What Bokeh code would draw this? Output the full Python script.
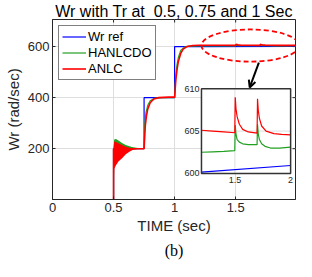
import math
from bokeh.plotting import figure
from bokeh.models import Range1d, FixedTicker, Title, Arrow, OpenHead
from bokeh.embed import file_html
from bokeh.resources import INLINE
from bokeh.core.properties import value

# ---------------- data ----------------
t_ref = [0.0, 0.5, 0.5, 0.75, 0.75, 1.0, 1.0, 1.2, 2.0]
w_ref = [0, 0, 200, 200, 400, 400, 600, 600.15, 600.94]

t_hanlcdo = [0.0, 0.5, 0.5, 0.75, 0.755, 0.765, 0.78, 0.80, 0.84, 0.90, 1.0,
             1.01, 1.02, 1.03, 1.05, 1.08, 1.12, 1.2, 1.3, 1.4, 1.499,
             1.503, 1.51, 1.52, 1.54, 1.57, 1.62, 1.699, 1.703, 1.71, 1.72,
             1.74, 1.77, 1.82, 1.9, 2.0]
w_hanlcdo = [0, 0, 200, 201, 290, 340, 370, 388, 398, 400, 400,
             490, 530, 556, 585, 598, 601.5, 602.5, 602.55, 602.6, 602.7,
             605.7, 604.6, 604.0, 603.7, 603.5, 603.4, 603.4, 605.8, 604.6, 604.0,
             603.5, 603.2, 603.0, 603.0, 603.1]

t_anlc = [0.0, 0.5, 0.5, 0.70, 0.75, 0.76, 0.77, 0.78, 0.80, 0.83, 0.87, 0.95,
          1.0, 1.01, 1.02, 1.03, 1.05, 1.07, 1.10, 1.15, 1.2, 1.3, 1.4, 1.499,
          1.503, 1.51, 1.52, 1.54, 1.57, 1.62, 1.699, 1.703, 1.71, 1.72, 1.74,
          1.78, 1.85, 1.92, 2.0]
w_anlc = [0, 0, 200, 200, 200, 290, 330, 355, 380, 395, 400, 402,
          402, 470, 510, 540, 573, 590, 600, 604, 605.1, 605.0, 604.9, 604.8,
          609.0, 607.6, 606.7, 605.8, 605.2, 604.9, 604.75, 608.8, 607.4, 606.5, 605.6,
          605.0, 604.7, 604.6, 604.55]

# oscillation envelopes after the 0.5 s step
t_osc_hanlcdo = [0.500, 0.505, 0.52, 0.54, 0.57, 0.60, 0.65, 0.70, 0.75]
hanlcdo_hi = [200, 236, 238, 232, 222, 214, 207, 203, 201]
hanlcdo_lo = [200, 150, 160, 170, 180, 190, 196, 199, 200]

t_osc_anlc = [0.500, 0.505, 0.52, 0.54, 0.57, 0.60, 0.63, 0.66, 0.70]
anlc_hi = [200, 228, 226, 221, 214, 208, 204, 201, 200]
anlc_lo = [0, 120, 135, 150, 163, 178, 188, 196, 200]

x_ticks = [0, 0.5, 1, 1.5]
y_ticks = [200, 400, 600]
inset_x_ticks = [1.5, 2.0]
inset_x_labels = ["1.5", "2"]
inset_y_ticks = [600, 605, 610]
inset_y_labels = ["600", "605", "610"]

# ---------------- layout constants ----------------
X_RANGE = (0.0, 1.99)
Y_RANGE = (1.0, 706.0)
INSET_X = (1.2, 2.0)
INSET_Y = (600.0, 610.0)
BOX_X = (1.22, 1.95)      # inset box position in main-axis units
BOX_Y = (103.0, 435.0)

FONT = "Liberation Sans"
TXT = "#262626"
BLUE = "#0000ff"
GREEN = "#22a022"
RED = "#ff0000"

p = figure(width=296, height=261, output_backend="svg", toolbar_location=None,
           x_range=Range1d(*X_RANGE), y_range=Range1d(*Y_RANGE),
           min_border_left=52, min_border_right=1, min_border_top=0, min_border_bottom=0)
p.background_fill_color = "white"
p.border_fill_color = "white"
p.outline_line_color = TXT
p.outline_line_width = 1

# title
p.title.text = "Wr with Tr at\u00a0 0.5, 0.75 and 1 Sec"
p.title.text_font = FONT
p.title.text_font_size = "16px"
p.title.text_font_style = "normal"
p.title.text_color = "black"
p.title.align = "center"
p.title.standoff = 0
p.title.offset = 0

# axes
for ax, ticks in ((p.xaxis[0], x_ticks), (p.yaxis[0], y_ticks)):
    ax.ticker = FixedTicker(ticks=ticks)
    ax.major_tick_in = 3
    ax.major_tick_out = 0
    ax.minor_tick_line_color = None
    ax.major_label_text_font = FONT
    ax.major_label_text_font_size = "13px"
    ax.major_label_text_color = TXT
    ax.axis_line_color = TXT
    ax.major_tick_line_color = TXT
    ax.axis_label_text_font = FONT
    ax.axis_label_text_font_size = "15px"
    ax.axis_label_text_font_style = "normal"
    ax.axis_label_text_color = TXT
p.xaxis.major_label_standoff = 3
p.yaxis.major_label_standoff = 3
p.xaxis.axis_label = "TIME (sec)"
p.yaxis.axis_label = "Wr (rad/sec)"
p.xaxis.axis_label_standoff = 2
p.yaxis.axis_label_standoff = 3
p.xaxis.formatter.use_scientific = False

p.xgrid.ticker = FixedTicker(ticks=x_ticks)
p.ygrid.ticker = FixedTicker(ticks=y_ticks)
p.grid.grid_line_color = "#dedede"
p.grid.grid_line_width = 1

# "(b)" caption
p.add_layout(Title(text="(b)", align="center", text_font="Liberation Serif",
                   text_font_size="16px", text_font_style="normal", text_color="black",
                   offset=-16, standoff=6), "below")

# mirrored tick marks on the right and top edges
p.ray(x=[X_RANGE[1]] * len(y_ticks), y=y_ticks, length=3, length_units="screen",
      angle=math.pi, line_color=TXT, line_width=1)
p.ray(x=x_ticks, y=[Y_RANGE[1]] * len(x_ticks), length=3, length_units="screen",
      angle=-math.pi / 2, line_color=TXT, line_width=1)

# ---------------- main curves ----------------
p.line(t_ref, w_ref, color=BLUE, line_width=1.2, legend_label="Wr ref")
p.line(t_hanlcdo, w_hanlcdo, color=GREEN, line_width=1.2, legend_label="HANLCDO")
p.varea(x=t_osc_hanlcdo, y1=hanlcdo_lo, y2=hanlcdo_hi, fill_color=GREEN)
p.varea(x=t_osc_anlc, y1=anlc_lo, y2=anlc_hi, fill_color=RED)
p.line(t_anlc, w_anlc, color=RED, line_width=1.6, legend_label="ANLC")

# highlight ellipse and arrow
p.ellipse(x=[1.62], y=[604], width=0.80, height=126, fill_alpha=0,
          line_color=RED, line_width=1.8, line_dash="5 3")
p.add_layout(Arrow(end=OpenHead(size=7, line_width=2, line_color="black"),
                   x_start=1.69, y_start=537, x_end=1.615, y_end=440,
                   line_width=2, line_color="black"))

# ---------------- inset ----------------
sx = (INSET_X[1] - INSET_X[0]) / (BOX_X[1] - BOX_X[0])
sy = (INSET_Y[1] - INSET_Y[0]) / (BOX_Y[1] - BOX_Y[0])
p.extra_x_ranges = {"ix": Range1d(INSET_X[0] + (X_RANGE[0] - BOX_X[0]) * sx,
                                  INSET_X[0] + (X_RANGE[1] - BOX_X[0]) * sx)}
p.extra_y_ranges = {"iy": Range1d(INSET_Y[0] + (Y_RANGE[0] - BOX_Y[0]) * sy,
                                  INSET_Y[0] + (Y_RANGE[1] - BOX_Y[0]) * sy)}
I = dict(x_range_name="ix", y_range_name="iy")

p.quad(left=[INSET_X[0]], right=[INSET_X[1]], bottom=[INSET_Y[0]], top=[INSET_Y[1]],
       fill_color="white", line_color=None, **I)
# inset grid
p.segment(x0=inset_x_ticks[:1], y0=[INSET_Y[0]], x1=inset_x_ticks[:1], y1=[INSET_Y[1]],
          line_color="#dedede", line_width=1, **I)
p.segment(x0=[INSET_X[0]], y0=[inset_y_ticks[1]], x1=[INSET_X[1]], y1=[inset_y_ticks[1]],
          line_color="#dedede", line_width=1, **I)


def inset_part(t, w):
    pts = [(a, b) for a, b in zip(t, w) if a >= INSET_X[0] - 1e-9]
    return [a for a, _ in pts], [b for _, b in pts]


for t, w, c, lw in ((t_ref, w_ref, BLUE, 1.2), (t_hanlcdo, w_hanlcdo, GREEN, 1.2),
                    (t_anlc, w_anlc, RED, 1.2)):
    xi, yi = inset_part(t, w)
    p.line(xi, yi, color=c, line_width=lw, **I)

p.quad(left=[INSET_X[0]], right=[INSET_X[1]], bottom=[INSET_Y[0]], top=[INSET_Y[1]],
       fill_alpha=0, line_color="#333333", line_width=1.5, **I)

p.text(x=[INSET_X[0]] * len(inset_y_ticks), y=inset_y_ticks, text=inset_y_labels,
       text_font=value(FONT), text_font_size="9px", text_color=TXT,
       text_align="right", text_baseline="middle", x_offset=-2, **I)
p.text(x=inset_x_ticks, y=[INSET_Y[0]] * len(inset_x_ticks), text=inset_x_labels,
       text_font=value(FONT), text_font_size="9px", text_color=TXT,
       text_align="center", text_baseline="top", y_offset=4, **I)

# ---------------- legend ----------------
lg = p.legend[0]
lg.location = "top_left"
lg.margin = 6
lg.padding = 3
lg.spacing = 1
lg.glyph_width = 24
lg.glyph_height = 15
lg.label_height = 15
lg.label_standoff = 2
lg.label_text_font = FONT
lg.label_text_font_size = "13px"
lg.label_text_color = "black"
lg.border_line_color = "black"
lg.border_line_width = 1
lg.background_fill_alpha = 1

open("out.html", "w").write(file_html(p, INLINE))
